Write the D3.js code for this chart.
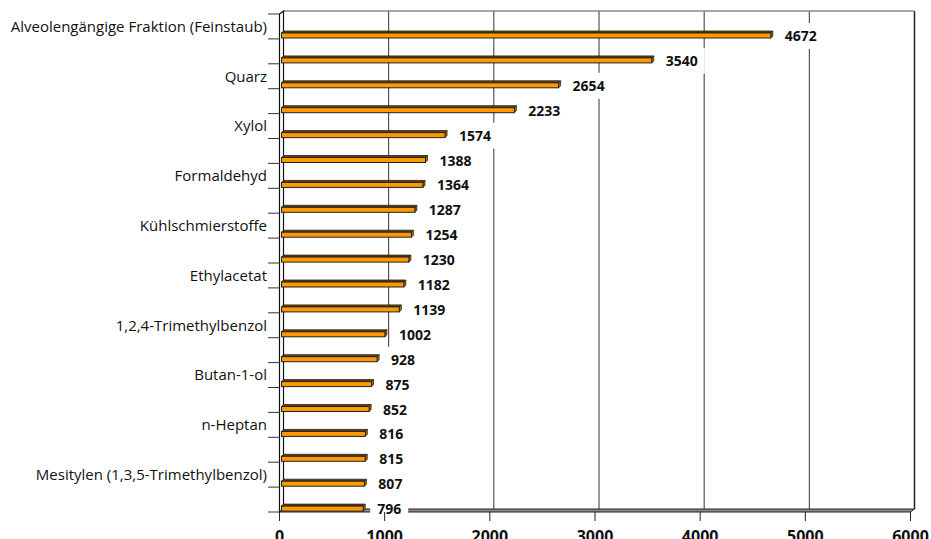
<!DOCTYPE html>
<html>
<head>
<meta charset="utf-8">
<script src="https://cdn.jsdelivr.net/npm/d3@7"></script>
<style>
  body { margin: 0; background: #fff; }
  svg { display: block; }
  .cat { font-family: 'Open Sans', sans-serif; font-size: 15px; fill: #111; }
  .val { font-family: 'Open Sans', sans-serif; font-size: 14px; font-weight: bold; fill: #111; }
  .tick-x { font-family: 'Open Sans', sans-serif; font-size: 16px; font-weight: bold; fill: #111; }
</style>
</head>
<body>
<div id="chart"></div>
<script>
// every other category is labelled in the original, the rest are blank
var labels = [
  'Alveolengängige Fraktion (Feinstaub)', '',
  'Quarz', '',
  'Xylol', '',
  'Formaldehyd', '',
  'Kühlschmierstoffe', '',
  'Ethylacetat', '',
  '1,2,4-Trimethylbenzol', '',
  'Butan-1-ol', '',
  'n-Heptan', '',
  'Mesitylen (1,3,5-Trimethylbenzol)', ''
];
var values = [4672, 3540, 2654, 2233, 1574, 1388, 1364, 1287, 1254, 1230,
              1182, 1139, 1002, 928, 875, 852, 816, 815, 807, 796];
var xTicks = [0, 1000, 2000, 3000, 4000, 5000, 6000];

function drawChart() {
  var width = 931, height = 539;
  var depth = { x: 4, y: -3 };   // offset of the back wall
  var barDepth = { x: 2, y: -2 };

  var svg = d3.select('#chart').append('svg')
    .attr('width', width)
    .attr('height', height);

  var xScale = d3.scaleLinear()
    .domain([0, 6000])
    .range([279.5, 910.5]);

  var yScale = d3.scaleBand()
    .domain(d3.range(values.length))
    .range([14, 512]);

  var bw = yScale.bandwidth();
  var top = yScale.range()[0], bottom = yScale.range()[1];

  // back wall gridlines
  svg.append('g')
    .selectAll('line')
    .data(xTicks.slice(1))
    .enter().append('line')
      .attr('x1', function(d) { return xScale(d) + depth.x; })
      .attr('x2', function(d) { return xScale(d) + depth.x; })
      .attr('y1', top + depth.y)
      .attr('y2', bottom + depth.y)
      .attr('stroke', function(d) { return d === 6000 ? '#222' : '#333'; })
      .attr('stroke-width', function(d) { return d === 6000 ? 1.5 : 1; });

  // top edge of back wall
  svg.append('line')
    .attr('x1', xScale(0) + depth.x).attr('x2', xScale(6000) + depth.x)
    .attr('y1', top + depth.y).attr('y2', top + depth.y)
    .attr('stroke', '#888').attr('stroke-width', 1.5);

  // left wall
  svg.append('polygon')
    .attr('points', [
      [xScale(0), top], [xScale(0) + depth.x, top + depth.y],
      [xScale(0) + depth.x, bottom + depth.y], [xScale(0), bottom]
    ].join(' '))
    .attr('fill', '#fff')
    .attr('stroke', '#111')
    .attr('stroke-width', 1.2);

  // floor
  svg.append('polygon')
    .attr('points', [
      [xScale(0), bottom], [xScale(6000), bottom],
      [xScale(6000) + depth.x, bottom + depth.y], [xScale(0) + depth.x, bottom + depth.y]
    ].join(' '))
    .attr('fill', '#8a8a8a')
    .attr('stroke', '#222')
    .attr('stroke-width', 1);

  // bars
  var bars = svg.append('g').selectAll('g')
    .data(values)
    .enter().append('g');

  var bx0 = xScale(0) + 2;
  function yTop(i) { return yScale(i) + 19; }
  function yBot(i) { return yScale(i) + 24; }

  bars.append('polygon')
    .attr('points', function(d, i) {
      var x1 = xScale(d), yt = yTop(i);
      return [[bx0, yt], [x1, yt], [x1 + barDepth.x, yt + barDepth.y], [bx0 + barDepth.x, yt + barDepth.y]].join(' ');
    })
    .attr('fill', '#6a4000')
    .attr('stroke', '#222')
    .attr('stroke-width', 0.8);

  bars.append('polygon')
    .attr('points', function(d, i) {
      var x1 = xScale(d), yt = yTop(i), yb = yBot(i);
      return [[x1, yt], [x1 + barDepth.x, yt + barDepth.y], [x1 + barDepth.x, yb + barDepth.y], [x1, yb]].join(' ');
    })
    .attr('fill', '#b86e00')
    .attr('stroke', '#222')
    .attr('stroke-width', 0.8);

  bars.append('rect')
    .attr('x', bx0)
    .attr('y', function(d, i) { return yTop(i); })
    .attr('width', function(d) { return xScale(d) - bx0; })
    .attr('height', function(d, i) { return yBot(i) - yTop(i); })
    .attr('fill', '#ff9900')
    .attr('stroke', '#222')
    .attr('stroke-width', 1);

  // value labels with white boxes
  var vals = svg.append('g').selectAll('g')
    .data(values)
    .enter().append('g')
      .attr('transform', function(d, i) {
        return 'translate(' + (xScale(d) + 14) + ',' + (yScale(i) + 22) + ')';
      });

  vals.append('text')
    .attr('class', 'val')
    .attr('dy', '0.36em')
    .text(function(d) { return d; });

  vals.insert('rect', 'text')
    .attr('x', -7)
    .attr('y', -13)
    .attr('height', 26)
    .attr('width', function() {
      return this.parentNode.querySelector('text').getComputedTextLength() + 14;
    })
    .attr('fill', '#fff');

  // left ticks
  svg.append('g').selectAll('line')
    .data(d3.range(values.length + 1))
    .enter().append('line')
      .attr('x1', 268).attr('x2', xScale(0))
      .attr('y1', function(d) { return top + d * bw; })
      .attr('y2', function(d) { return top + d * bw; })
      .attr('stroke', '#333')
      .attr('stroke-width', 1);

  // category labels
  svg.append('g').selectAll('text')
    .data(labels)
    .enter().append('text')
      .attr('class', 'cat')
      .attr('x', 267)
      .attr('y', function(d, i) { return yScale(i) + bw / 2; })
      .attr('dy', '0.35em')
      .attr('text-anchor', 'end')
      .text(function(d) { return d; });

  // bottom ticks and labels
  var xt = svg.append('g').selectAll('g')
    .data(xTicks)
    .enter().append('g')
      .attr('transform', function(d) { return 'translate(' + xScale(d) + ',0)'; });

  xt.append('line')
    .attr('y1', bottom).attr('y2', bottom + 9)
    .attr('stroke', '#222');

  xt.append('text')
    .attr('class', 'tick-x')
    .attr('y', 542)
    .attr('text-anchor', 'middle')
    .text(function(d) { return d; });
}

drawChart();
</script>
</body>
</html>
